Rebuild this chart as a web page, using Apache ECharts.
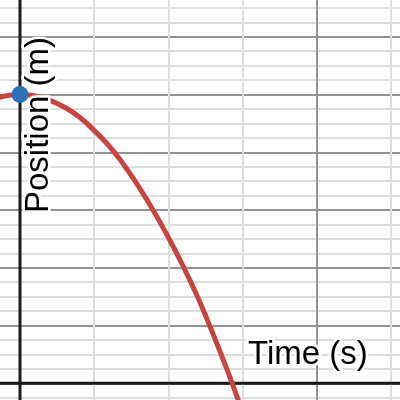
<!DOCTYPE html>
<html>
<head>
<meta charset="utf-8">
<script src="https://cdn.jsdelivr.net/npm/echarts@6/dist/echarts.min.js"></script>
<style>
html,body{margin:0;padding:0;background:#fff;}
#chart{width:400px;height:400px;}
</style>
</head>
<body>
<div id="chart"></div>
<script>
// Data
const timeS     = [-0.2, -0.1, 0, 0.1, 0.2, 0.3, 0.4, 0.5, 0.62, 0.75, 0.89, 1.0, 1.1, 1.2, 1.28, 1.36, 1.43, 1.5, 1.56];
const positionM = [9.8, 9.95, 10, 9.95, 9.8, 9.56, 9.22, 8.75, 8.1, 7.2, 6.05, 5.05, 4.05, 2.95, 1.97, 0.94, 0.0, -1.03, -1.9];
const startPoint = [[0, 10]];
const xLabel = 'Time (s)';
const yLabel = 'Position (m)';
const xRange = [-2, 4];
const yRange = [-2, 14];
const xMajor = 2, yMajor = 2, minorSplits = 4;

// layout (pixels)
const originX = 20, originY = 383.3, pxPerS = 148.4, pxPerM = 28.88;

const chart = echarts.init(document.getElementById('chart'), null, {renderer: 'canvas'});

const curve = timeS.map((t, i) => [t, positionM[i]]);

const gridCommon = {
  splitLine: {show: true, lineStyle: {color: '#939393', width: 2}},
  minorTick: {show: false, splitNumber: minorSplits},
  minorSplitLine: {show: true, lineStyle: {color: '#dedede', width: 2}},
  axisLine: {show: false},
  axisTick: {show: false},
  axisLabel: {show: false}
};

const option = {
  animation: false,
  backgroundColor: '#ffffff',
  grid: {
    left: originX + xRange[0] * pxPerS,
    width: (xRange[1] - xRange[0]) * pxPerS,
    top: originY - yRange[1] * pxPerM,
    height: (yRange[1] - yRange[0]) * pxPerM,
    containLabel: false,
    outerBoundsMode: 'none'
  },
  xAxis: Object.assign({type: 'value', min: xRange[0], max: xRange[1], interval: xMajor}, gridCommon),
  yAxis: Object.assign({type: 'value', min: yRange[0], max: yRange[1], interval: yMajor}, gridCommon),
  series: [
    {
      type: 'line', silent: true, symbol: 'none', z: 3,
      data: [[xRange[0], 0], [xRange[1], 0]],
      lineStyle: {color: '#1a1a1a', width: 3}
    },
    {
      type: 'line', silent: true, symbol: 'none', z: 3,
      data: [[0, yRange[0]], [0, yRange[1]]],
      lineStyle: {color: '#1a1a1a', width: 3}
    },
    {
      type: 'line', silent: true, symbol: 'none', smooth: true, z: 4,
      data: curve,
      lineStyle: {color: '#c74440', width: 5}
    },
    {
      type: 'scatter', silent: true, z: 6,
      data: startPoint,
      symbolSize: 17,
      itemStyle: {color: '#2d70b3', opacity: 1}
    }
  ],
  graphic: [
    {
      type: 'text', z: 10,
      x: 248, y: 355,
      style: {
        text: xLabel, font: '33px "Liberation Sans", Arial, sans-serif',
        fill: '#000', stroke: '#fff', lineWidth: 5,
        align: 'left', verticalAlign: 'middle'
      }
    },
    {
      type: 'text', z: 10,
      x: 39, y: 125, rotation: Math.PI / 2,
      style: {
        text: yLabel, font: '33px "Liberation Sans", Arial, sans-serif',
        fill: '#000', stroke: '#fff', lineWidth: 5,
        align: 'center', verticalAlign: 'middle'
      }
    }
  ]
};
chart.setOption(option);
</script>
</body>
</html>
